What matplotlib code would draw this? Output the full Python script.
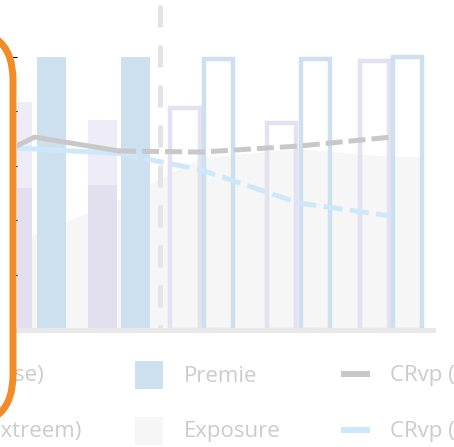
import numpy as np
import matplotlib
matplotlib.use("Agg")
import matplotlib.pyplot as plt
from matplotlib.patches import FancyBboxPatch, Rectangle
from matplotlib.lines import Line2D
from matplotlib.transforms import IdentityTransform

# periods (first three realised, rest projected)
periods = [-0.96, 0.0, 0.96, 1.9, 3.0, 4.05]
n_hist = 3

premie = [100, 100, 100, 99.2, 99.2, 100]
schade_extreem = [80, 83.5, 76.9, 81.2, 75.7, 98.4]
schade_base = [50, 51.9, 53.0, np.nan, np.nan, np.nan]
exposure = [33, 34.7, 47.5, 62.9, 66.2, 63.3]

cr_base = [83.6, 106.9, 99.2, 98.6, 101.9, 106.9]
cr_extreem = [101.9, 100.3, 97.8, 88.6, 70.3, 63.1]

labels = ["Schadelast (base)", "Schadelast (extreem)", "Premie", "Exposure",
          "CRvp (base)", "CRvp (extreem)"]

C_LAV_DARK = "#e2e0ef"
C_LAV_LIGHT = "#eeecf6"
C_LAV_EDGE = "#e4e1f0"
C_BLUE = "#cde0ef"
C_EXPO = "#f6f6f6"
C_GREY_LINE = "#c8c8c8"
C_BLUE_LINE = "#cee8fa"
C_TEXT = "#cccccc"
C_ORANGE = "#f28c28"

W, H = 454, 447
fig = plt.figure(figsize=(W / 100, H / 100), dpi=100)
ax = fig.add_axes([17 / W, 117.5 / H, 416 / W, 324.5 / H])
ax.set_xlim(-0.199, 4.528)
ax.set_ylim(0, 119.08)
for side in ("top", "left", "right"):
    ax.spines[side].set_visible(False)
ax.spines["bottom"].set_color("#e8e8e8")
ax.spines["bottom"].set_linewidth(3.6)
ax.tick_params(bottom=False, left=False, labelbottom=False, labelleft=False)

x = np.array(periods)
off, bw = 0.19, 0.33

# exposure area behind the bars
x_area = np.r_[x, x[-1] + off + bw / 2]
y_area = np.r_[exposure, exposure[-1]]
ax.fill_between(x_area, y_area, color=C_EXPO, lw=0, zorder=0.5)

# realised periods: filled bars
xh = x[:n_hist]
ax.bar(xh - off, schade_extreem[:n_hist], bw, color=C_LAV_LIGHT, zorder=1)
ax.bar(xh - off, schade_base[:n_hist], bw, color=C_LAV_DARK, zorder=1.1)
ax.bar(xh + off, premie[:n_hist], bw, color=C_BLUE, zorder=1)

# projected periods: outlined bars
xp = x[n_hist:]
ax.bar(xp - off, schade_extreem[n_hist:], bw, fill=False, edgecolor=C_LAV_EDGE,
       linewidth=3.2, zorder=1)
ax.bar(xp + off, premie[n_hist:], bw, fill=False, edgecolor=C_BLUE,
       linewidth=3.2, zorder=1)

# divider between realised and projected
x_div = (x[n_hist - 1] + x[n_hist]) / 2
ax.axvline(x_div, ymin=1, ymax=0, color="#e4e4e4", lw=3.6, dashes=(4.4, 3.6),
           zorder=1.5)

# combined ratios on their own scale
ax2 = ax.twinx()
ax2.set_ylim(0, 180.3)
ax2.axis("off")
ax2.plot(x[:n_hist], cr_extreem[:n_hist], color=C_BLUE_LINE, lw=3.6)
ax2.plot(x[n_hist - 1:], cr_extreem[n_hist - 1:], color=C_BLUE_LINE, lw=3.6,
         dashes=(3.8, 1.5))
ax2.plot(x[:n_hist], cr_base[:n_hist], color=C_GREY_LINE, lw=3.6)
ax2.plot(x[n_hist - 1:], cr_base[n_hist - 1:], color=C_GREY_LINE, lw=3.6,
         dashes=(3.4, 1.2))

# legend, three columns by two rows
def fx(px):
    return px / W


def fy(py):
    return 1 - py / H


text_kw = dict(fontsize=16, color=C_TEXT, family="Open Sans", va="baseline",
               zorder=3)
renderer = fig.canvas.get_renderer()
probe = fig.text(0, 0, labels[0], **text_kw)
w0 = probe.get_window_extent(renderer).width
probe.remove()
col1_text = 44 - w0

col_handle = [col1_text - 49, 135, 341]
row_mid = [375, 431]
handles = [("patch", C_LAV_DARK), ("patch", C_LAV_LIGHT),
           ("patch", C_BLUE), ("patch", C_EXPO),
           ("line", C_GREY_LINE), ("line", C_BLUE_LINE)]
for i, ((kind, col), lab) in enumerate(zip(handles, labels)):
    c, r = divmod(i, 2)
    hx, hy = col_handle[c], row_mid[r]
    if kind == "patch":
        fig.add_artist(Rectangle((fx(hx), fy(hy + 14)), 28 / W, 28 / H,
                                 transform=fig.transFigure, color=col, lw=0))
    else:
        fig.add_artist(Line2D([fx(hx), fx(hx + 29)], [fy(hy - 1), fy(hy - 1)],
                              transform=fig.transFigure, color=col, lw=4.3,
                              solid_capstyle="butt"))
    fig.text(fx(hx + 49), fy(hy + 6.5), lab, **text_kw)

# highlight frame on the left, drawn over whatever lies inside it
frame = FancyBboxPatch((-400, 22), 413, 395,
                       boxstyle="round,pad=0,rounding_size=50",
                       transform=IdentityTransform(), facecolor="white",
                       edgecolor=C_ORANGE, linewidth=5.0, zorder=5)
fig.add_artist(frame)

fig.savefig("out.png", dpi=100)
